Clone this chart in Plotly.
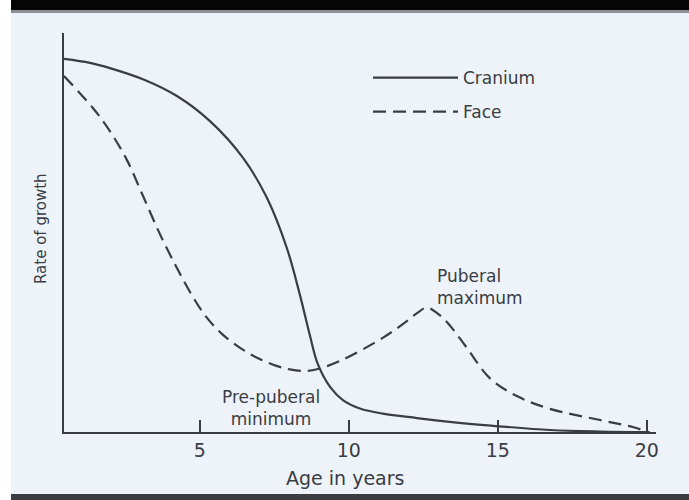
import plotly.graph_objects as go

# Growth-rate curves (relative rate of growth vs. age in years)
cranium_age = [0.44, 1.31, 1.98, 3.09, 4.23, 5.34, 6.45, 7.25, 7.92, 8.36, 8.69, 8.96,
               9.37, 9.80, 10.37, 11.14, 12.28, 13.96, 14.77, 16.75, 18.43, 20.1]
cranium_rate = [93.5, 92.5, 91.2, 88.4, 84.2, 77.9, 68.7, 58.7, 46.1, 34.3, 24.3, 17.0,
                11.3, 8.0, 5.9, 4.6, 3.5, 2.1, 1.6, 0.5, 0.13, 0.0]

face_age = [0.44, 1.41, 1.98, 2.55, 3.09, 3.66, 4.23, 4.77, 5.24, 5.74, 6.35, 6.92,
            7.52, 8.02, 8.53, 8.96, 9.70, 11.14, 11.95, 12.29, 12.62, 12.96, 13.29,
            13.96, 14.73, 15.64, 16.75, 18.43, 19.53, 20.0]
face_rate = [89.2, 81.2, 75.4, 68.2, 59.2, 49.6, 41.1, 33.8, 28.6, 24.6, 21.1, 18.6,
             16.7, 15.7, 15.3, 15.8, 17.8, 23.6, 27.8, 29.8, 31.2, 29.8, 27.6,
             21.1, 13.5, 9.0, 5.8, 3.0, 1.25, 0.1]

series_names = ["Cranium", "Face"]
age_ticks = [5, 10, 15, 20]
x_title = "Age in years"
y_title = "Rate of growth"
note_max = "Puberal<br>maximum"
note_min = "Pre-puberal<br>minimum"

W, H = 689, 500
ML, MR, MT, MB = 64, 33, 33, 68
PW, PH = W - ML - MR, H - MT - MB

INK = "#3a3d44"
FONT = "DejaVu Sans"


def px_x(p):
    """Pixel column -> paper x."""
    return (p - ML) / PW


def px_y(p):
    """Pixel row (from top) -> paper y."""
    return (H - MB - p) / PH


fig = go.Figure()
fig.add_trace(go.Scatter(
    x=cranium_age, y=cranium_rate, name=series_names[0], mode="lines",
    legendgroup="c",
    line=dict(color=INK, width=2.2, shape="spline", smoothing=1.0),
))
fig.add_trace(go.Scatter(
    x=face_age, y=face_rate, name=series_names[1], mode="lines",
    legendgroup="f",
    line=dict(color=INK, width=2.2, dash="13px,7px", shape="spline", smoothing=1.0),
))

annotations = [
    dict(text=x_title, x=px_x(345), y=px_y(478), font=dict(size=19)),
    dict(text=y_title, x=px_x(41), y=px_y(229), textangle=-90, font=dict(size=15)),
    dict(text=note_max, x=px_x(435), y=px_y(287), xanchor="left", align="left",
         font=dict(size=17)),
    dict(text=note_min, x=px_x(271), y=px_y(408), font=dict(size=17)),
]
for a in annotations:
    a.setdefault("xanchor", "center")
    a.update(xref="paper", yref="paper", yanchor="middle", showarrow=False)
    a["font"].update(family=FONT, color=INK)

# Photographic frame: white strip on the left, dark bands top and bottom
frame = [
    ((0, 0, 11, H), "#ffffff"),
    ((11, 0, W, 10), "#050505"),
    ((11, 10, W, 13), "#8d9096"),
    ((11, 494, W, H), "#3b3d42"),
]
shapes = [
    dict(type="rect", xref="paper", yref="paper",
         x0=px_x(x0), x1=px_x(x1), y0=px_y(y1), y1=px_y(y0),
         fillcolor=c, line_width=0, layer="below")
    for (x0, y0, x1, y1), c in frame
]

fig.update_layout(
    width=W, height=H, autosize=False,
    margin=dict(l=ML, r=MR, t=MT, b=MB, pad=0),
    paper_bgcolor="#edf3f9", plot_bgcolor="rgba(0,0,0,0)",
    font=dict(family=FONT, color=INK),
    showlegend=True,
    legend=dict(
        x=px_x(368), y=px_y(60), xanchor="left", yanchor="top",
        bgcolor="rgba(0,0,0,0)", font=dict(size=17, family=FONT, color=INK),
        itemwidth=85, tracegroupgap=9, traceorder="grouped",
    ),
    annotations=annotations,
    shapes=shapes,
    xaxis=dict(
        range=[0.44, 20.31], showgrid=False, zeroline=False,
        showline=True, linecolor=INK, linewidth=2,
        ticks="inside", ticklen=12, tickwidth=1.6, tickcolor=INK,
        tickvals=age_ticks, ticktext=[str(t) for t in age_ticks],
        tickfont=dict(size=19, family=FONT, color=INK),
    ),
    yaxis=dict(
        range=[0, 100], showgrid=False, zeroline=False,
        showline=True, linecolor=INK, linewidth=2,
        showticklabels=False, ticks="",
    ),
)

fig.write_html("out.html")
